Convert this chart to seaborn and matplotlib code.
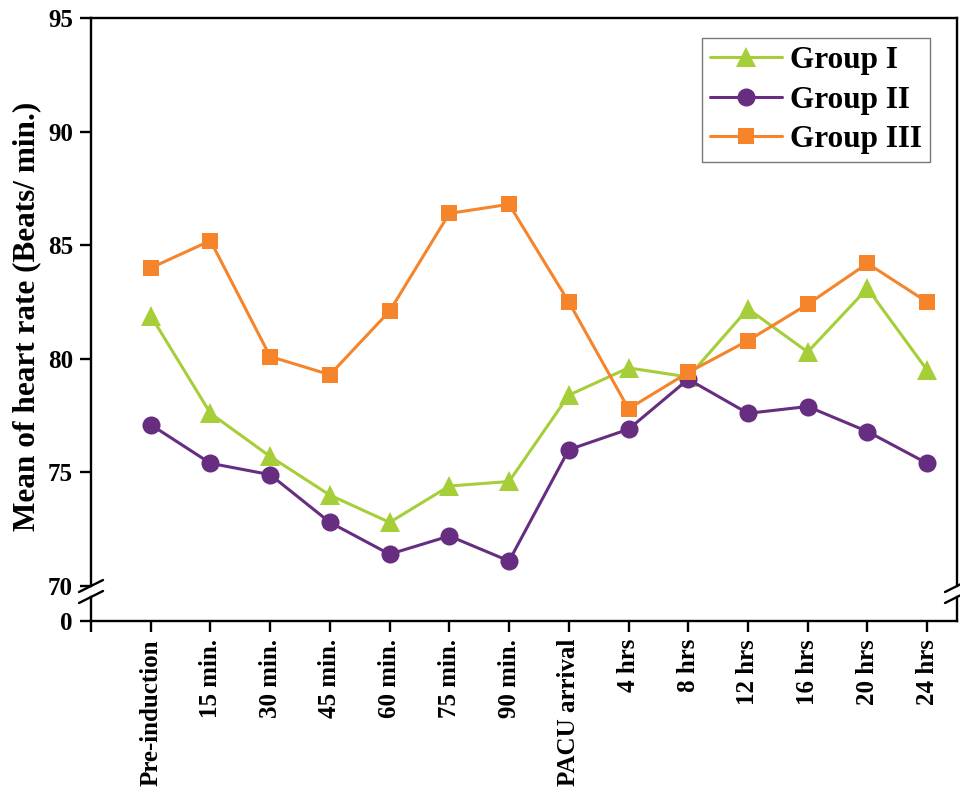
import numpy as np
import pandas as pd
import matplotlib
matplotlib.use("Agg")
import matplotlib.pyplot as plt
import seaborn as sns

# Time points of heart-rate measurement
time_points = ["Pre-induction", "15 min.", "30 min.", "45 min.", "60 min.",
               "75 min.", "90 min.", "PACU arrival", "4 hrs", "8 hrs",
               "12 hrs", "16 hrs", "20 hrs", "24 hrs"]

# Mean heart rate (beats/min) per group
group_1 = [81.9, 77.6, 75.7, 74.0, 72.8, 74.4, 74.6, 78.4, 79.6, 79.2, 82.2, 80.3, 83.1, 79.5]
group_2 = [77.1, 75.4, 74.9, 72.8, 71.4, 72.2, 71.1, 76.0, 76.9, 79.1, 77.6, 77.9, 76.8, 75.4]
group_3 = [84.0, 85.2, 80.1, 79.3, 82.1, 86.4, 86.8, 82.5, 77.8, 79.4, 80.8, 82.4, 84.2, 82.5]

group_names = ["Group I", "Group II", "Group III"]
colors = {"Group I": "#A6CE39", "Group II": "#662D80", "Group III": "#F5842A"}
markers = {"Group I": "^", "Group II": "o", "Group III": "s"}
marker_sizes = {"Group I": 15, "Group II": 13, "Group III": 11.5}

upper_ticks = [70, 75, 80, 85, 90, 95]
lower_ticks = [0]

pos = np.arange(len(time_points))
df = pd.DataFrame({
    "pos": np.tile(pos, 3),
    "hr": group_1 + group_2 + group_3,
    "group": np.repeat(group_names, len(time_points)),
})

sns.set_style("white")
plt.rcParams["font.family"] = ["Liberation Serif", "DejaVu Serif"]
plt.rcParams["font.weight"] = "bold"
for key in ["text.color", "axes.labelcolor", "xtick.color", "ytick.color", "axes.edgecolor"]:
    plt.rcParams[key] = "black"

W, H = 960, 791
fig = plt.figure(figsize=(W / 100, H / 100), dpi=100)

left_px, right_px = 91, 957
top_px, brk_top_px, brk_bot_px, bot_px = 18, 586, 597, 621


def fx(p):
    return p / W


def fy(p):
    return 1 - p / H


ax = fig.add_axes([fx(left_px), fy(brk_top_px), fx(right_px - left_px), (brk_top_px - top_px) / H])
axb = fig.add_axes([fx(left_px), fy(bot_px), fx(right_px - left_px), (bot_px - brk_bot_px) / H])

for name in group_names:
    sub = df[df["group"] == name]
    sns.lineplot(data=sub, x="pos", y="hr", ax=ax, color=colors[name],
                 marker=markers[name], markersize=marker_sizes[name],
                 markeredgewidth=0, linewidth=2.2, label=name)

spine_w = 1.7
tick_font = dict(fontsize=18, fontweight="bold", color="black")

# Upper panel (70-95)
ax.set_xlim(-1, 13.5)
ax.set_ylim(70, 95)
ax.set_yticks(upper_ticks)
ax.set_yticklabels([str(t) for t in upper_ticks], **tick_font)
ax.set_xticks([])
ax.set_xlabel("")
ax.set_ylabel("")
ax.spines["bottom"].set_visible(False)
for s in ["left", "right", "top"]:
    ax.spines[s].set_linewidth(spine_w)
    ax.spines[s].set_color("black")
ax.tick_params(axis="y", direction="out", length=8, width=spine_w, pad=5, left=True,
               colors="black")

# Lower panel holding the 0 tick and the category axis
axb.set_xlim(-1, 13.5)
axb.set_ylim(0, 1)
axb.set_yticks(lower_ticks)
axb.set_yticklabels([str(t) for t in lower_ticks], **tick_font)
axb.set_xticks(np.concatenate([[-1], pos]))
axb.set_xticklabels([""] + time_points, rotation=90, **tick_font)
axb.spines["top"].set_visible(False)
for s in ["left", "right", "bottom"]:
    axb.spines[s].set_linewidth(spine_w)
    axb.spines[s].set_color("black")
axb.tick_params(axis="both", direction="out", length=8, width=spine_w, pad=5,
                left=True, bottom=True, colors="black")
axb.patch.set_alpha(0)

# Break marks on both vertical spines
for xp in (left_px, right_px):
    for yp in (brk_top_px, brk_bot_px):
        fig.add_artist(plt.Line2D([fx(xp - 12), fx(xp + 12)], [fy(yp + 6), fy(yp - 6)],
                                  transform=fig.transFigure, color="black", lw=spine_w))

fig.text(fx(27), fy(316), "Mean of heart rate (Beats/ min.)", rotation=90,
         ha="center", va="center", fontsize=22.5, fontweight="bold", color="black")

leg = ax.legend(loc="upper right", bbox_to_anchor=(0.969, 0.965), borderaxespad=0,
                prop=dict(family="Liberation Serif", weight="bold", size=22.5),
                frameon=True, fancybox=False, edgecolor="#555555",
                handlelength=2.3, labelspacing=0.33, handletextpad=0.25,
                borderpad=0.27)
leg.get_frame().set_linewidth(1.0)
for t in leg.get_texts():
    t.set_color("black")

fig.savefig("out.png", dpi=100)
